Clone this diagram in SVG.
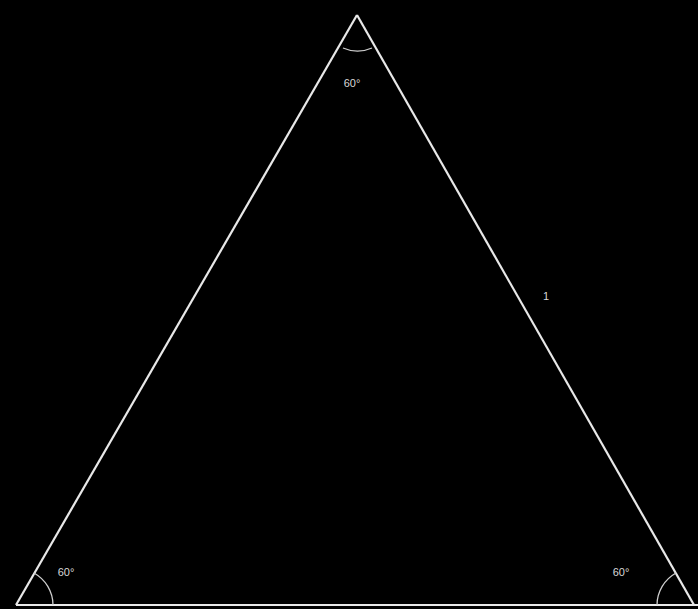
<svg xmlns="http://www.w3.org/2000/svg" width="698" height="609" viewBox="0 0 698 609">
<style>
.edge{stroke:#e8e8e8;stroke-width:2.2;fill:none}
.arc{stroke:#cfcfcf;stroke-width:1.3;fill:none}
.lbl{font-family:"Liberation Sans",Arial,sans-serif;font-size:11px;fill:#d8d8d8;text-anchor:middle}
</style>
<rect width="698" height="609" fill="#000"/>
<g id="connectors">
<line class="edge" x1="357" y1="15" x2="16" y2="605"/>
<line class="edge" x1="357" y1="15" x2="694" y2="605"/>
<line class="edge" x1="16" y1="605" x2="698" y2="605"/>
</g>
<g id="apex">
<path class="arc" d="M 343 48 A 36 36 0 0 0 372 48"/>
<text class="lbl" x="352" y="87">60°</text>
</g>
<g id="left">
<path class="arc" d="M 34 573 A 37 37 0 0 1 53 605"/>
<text class="lbl" x="66" y="576">60°</text>
</g>
<g id="right">
<path class="arc" d="M 676 573 A 37 37 0 0 0 657 605"/>
<text class="lbl" x="621" y="576">60°</text>
</g>
<g id="side">
<text class="lbl" x="546" y="300">1</text>
</g>
</svg>
